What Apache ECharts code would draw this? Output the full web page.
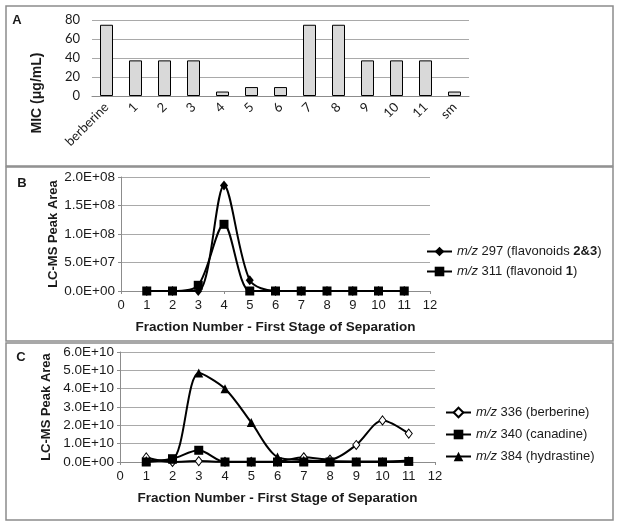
<!DOCTYPE html>
<html>
<head>
<meta charset="utf-8">
<script src="https://cdn.jsdelivr.net/npm/echarts@6/dist/echarts.min.js"></script>
<style>
  html, body { margin: 0; padding: 0; background: #fff; }
  #main { width: 620px; height: 527px; }
</style>
</head>
<body>
<div id="main"></div>
<script>
// Panel A - MIC values
const micCategories = ["berberine", "1", "2", "3", "4", "5", "6", "7", "8", "9", "10", "11", "sm"];
const micValues = [75, 37.5, 37.5, 37.5, 4.7, 9.4, 9.4, 75, 75, 37.5, 37.5, 37.5, 4.7];

// Panel B - flavonoids
const fractions = [1, 2, 3, 4, 5, 6, 7, 8, 9, 10, 11];
const mz297 = [0, 0, 0, 1.85e8, 1.9e7, 0, 0, 0, 0, 0, 0];
const mz311 = [0, 0, 1.0e7, 1.17e8, 0, 0, 0, 0, 0, 0, 0];

// Panel C - alkaloids
const mz336 = [2.5e9, 0, 5e8, 1e8, 1e8, 3e8, 2.6e9, 1.3e9, 9.3e9, 2.27e10, 1.55e10];
const mz340 = [0, 1.8e9, 6.4e9, 0, 0, 0, 0, 0, 0, 0, 3e8];
const mz384 = [8e8, 1.5e9, 4.85e10, 4.0e10, 2.16e10, 2.7e9, 1.0e9, 5e8, 3e8, 3e8, 8e8];

const chart = echarts.init(document.getElementById("main"));

const pairs = (ys) => fractions.map((x, i) => [x, ys[i]]);

// Excel style scientific labels, e.g. 2.0E+08
const sci = (v) => {
    if (v === 0) return "0.0E+00";
    const e = Math.floor(Math.log10(Math.abs(v)) + 1e-9);
    const m = v / Math.pow(10, e);
    return m.toFixed(1) + "E+" + String(e).padStart(2, "0");
};

const gray = "#8c8c8c";
const gridGray = "#a9a9a9";
const txt = "#1a1a1a";
const sans = "Liberation Sans";

const legendText = {
    "m/z 297 (flavonoids 2&3)": "{i|m/z} 297 (flavonoids {b|2&3})",
    "m/z 311 (flavonoid 1)": "{i|m/z} 311 (flavonoid {b|1})",
    "m/z 336 (berberine)": "{i|m/z} 336 (berberine)",
    "m/z 340 (canadine)": "{i|m/z} 340 (canadine)",
    "m/z 384 (hydrastine)": "{i|m/z} 384 (hydrastine)",
};
const legendStyle = {
    fontFamily: sans,
    fontSize: 13,
    color: txt,
    rich: {
        i: { fontStyle: "italic", fontFamily: sans, fontSize: 13, color: txt },
        b: { fontWeight: "bold", fontFamily: sans, fontSize: 13, color: txt },
    },
};

// shared look for the two scatter panels
const valueX = (idx) => ({
    type: "value",
    gridIndex: idx,
    min: 0,
    max: 12,
    interval: 1,
    name: "Fraction Number - First Stage of Separation",
    nameLocation: "middle",
    nameGap: 29,
    nameTextStyle: { fontFamily: sans, fontSize: 13.5, fontWeight: "bold", color: txt },
    splitLine: { show: false },
    axisLine: { lineStyle: { color: gray } },
    axisTick: { length: 3, lineStyle: { color: gray } },
    axisLabel: { fontFamily: sans, fontSize: 13, color: txt, margin: 8 },
});
const valueY = (idx, max, step) => ({
    type: "value",
    gridIndex: idx,
    min: 0,
    max: max,
    interval: step,
    name: "LC-MS Peak Area",
    nameLocation: "middle",
    nameGap: 61,
    nameTextStyle: { fontFamily: sans, fontSize: 13, fontWeight: "bold", color: txt },
    splitLine: { lineStyle: { color: gridGray } },
    axisLine: { show: true, lineStyle: { color: gray } },
    axisTick: { show: true, length: 3, lineStyle: { color: gray } },
    axisLabel: { fontFamily: sans, fontSize: 13.5, color: txt, margin: 6, formatter: sci },
});

// Excel-like smoothed line with markers
const lineSeries = (name, xi, ys, symbol, size, fill) => ({
    name: name,
    type: "line",
    xAxisIndex: xi,
    yAxisIndex: xi,
    data: pairs(ys),
    smooth: 0.3,
    symbol: symbol,
    symbolSize: size,
    lineStyle: { color: "#000", width: 2 },
    itemStyle: { color: fill, borderColor: "#000", borderWidth: fill === "#fff" ? 1 : 0 },
    emphasis: { disabled: true },
    animation: false,
});

const panel = (y, h) => ({
    type: "rect",
    shape: { x: 6, y: y, width: 607, height: h },
    style: { fill: "none", stroke: gray, lineWidth: 1.5 },
    silent: true,
});
const letter = (t, x, y) => ({
    type: "text",
    x: x,
    y: y,
    style: { text: t, fontFamily: sans, fontSize: 13, fontWeight: "bold", fill: txt, align: "center", verticalAlign: "middle" },
});

const options = {
    animation: false,
    graphic: [
        panel(6, 160),
        panel(167, 174),
        panel(343, 177),
        letter("A", 17, 20),
        letter("B", 22, 183),
        letter("C", 21, 357),
        {
            type: "text",
            x: 37,
            y: 93,
            rotation: Math.PI / 2,
            style: { text: "MIC (μg/mL)", fontFamily: sans, fontSize: 14, fontWeight: "bold", fill: txt, align: "center", verticalAlign: "middle" },
        },
    ],
    grid: [
        { left: 92, top: 20, width: 377, height: 76 },
        { left: 121, top: 177, width: 309, height: 114 },
        { left: 120, top: 352, width: 315, height: 110 },
    ],
    legend: [
        {
            data: ["m/z 297 (flavonoids 2&3)", "m/z 311 (flavonoid 1)"],
            orient: "vertical",
            left: 421,
            top: 240,
            itemWidth: 25,
            itemHeight: 12,
            itemGap: 7,
            selectedMode: false,
            formatter: (n) => legendText[n],
            textStyle: legendStyle,
        },
        {
            data: ["m/z 336 (berberine)", "m/z 340 (canadine)", "m/z 384 (hydrastine)"],
            orient: "vertical",
            left: 440,
            top: 401,
            itemWidth: 25,
            itemHeight: 12,
            itemGap: 9,
            selectedMode: false,
            formatter: (n) => legendText[n],
            textStyle: legendStyle,
        },
    ],
    xAxis: [
        {
            type: "category",
            gridIndex: 0,
            data: micCategories,
            axisLine: { lineStyle: { color: gray } },
            axisTick: { length: 4, interval: 0, lineStyle: { color: gray } },
            axisLabel: { rotate: 45, interval: 0, fontFamily: "Lato", fontSize: 13, color: txt, margin: 9 },
        },
        valueX(1),
        valueX(2),
    ],
    yAxis: [
        {
            type: "value",
            gridIndex: 0,
            min: 0,
            max: 80,
            interval: 20,
            splitLine: { lineStyle: { color: gridGray } },
            axisLine: { show: false },
            axisTick: { show: false },
            axisLabel: { fontFamily: "Lato", fontSize: 13, color: txt, margin: 12 },
        },
        valueY(1, 2e8, 5e7),
        valueY(2, 6e10, 1e10),
    ],
    series: [
        {
            name: "MIC",
            type: "bar",
            xAxisIndex: 0,
            yAxisIndex: 0,
            data: micValues,
            barWidth: 13,
            itemStyle: { color: "#d9d9d9", borderColor: "#000", borderWidth: 1 },
            emphasis: { disabled: true },
        },
        lineSeries("m/z 297 (flavonoids 2&3)", 1, mz297, "diamond", [8, 10], "#000"),
        lineSeries("m/z 311 (flavonoid 1)", 1, mz311, "rect", 9, "#000"),
        lineSeries("m/z 336 (berberine)", 2, mz336, "diamond", [7, 9], "#fff"),
        lineSeries("m/z 340 (canadine)", 2, mz340, "rect", 9, "#000"),
        lineSeries("m/z 384 (hydrastine)", 2, mz384, "triangle", 9, "#000"),
    ],
};

chart.setOption(options);
</script>
</body>
</html>
